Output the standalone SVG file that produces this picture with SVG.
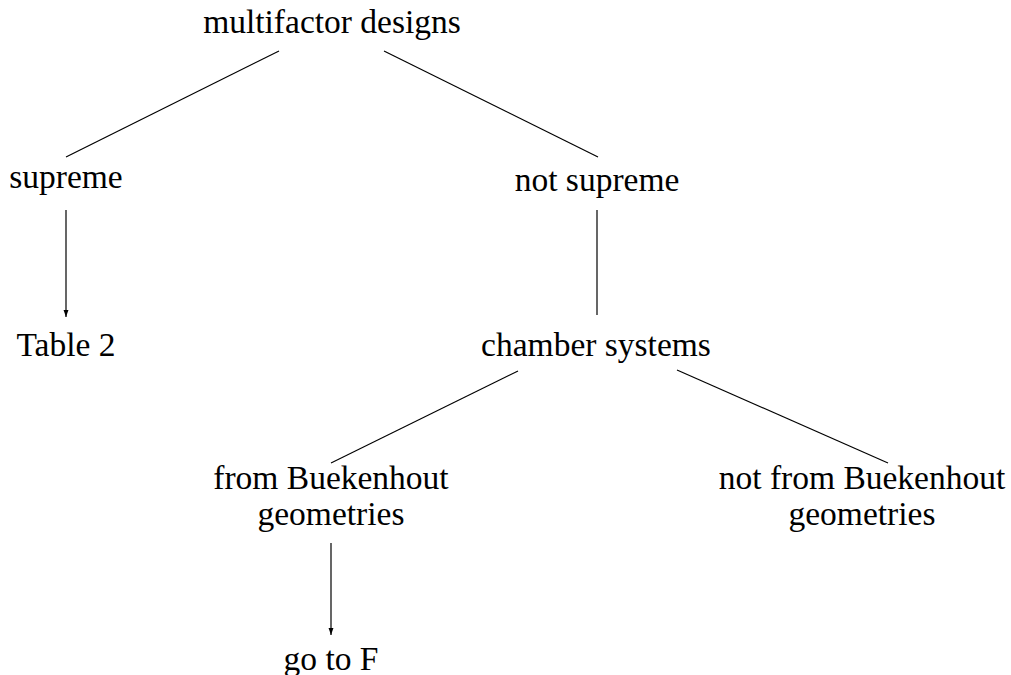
<svg xmlns="http://www.w3.org/2000/svg" width="1011" height="675" viewBox="0 0 1011 675">
<style>
text{font-family:"Liberation Serif","DejaVu Serif",serif;font-size:33.5px;fill:#000;text-anchor:middle}
.c line{stroke:#000;stroke-width:1.2;fill:none}
</style>
<defs>
<marker id="ah" markerWidth="7" markerHeight="10" refX="10" refY="3.5" orient="auto" markerUnits="userSpaceOnUse" viewBox="0 0 10 7">
<path d="M0,0 L10,3.5 L0,7 z" fill="#000"/>
</marker>
</defs>
<rect width="1011" height="675" fill="#fff"/>
<g class="c" id="connectors">
<line x1="279" y1="51" x2="66" y2="157"/>
<line x1="384" y1="51" x2="598" y2="157"/>
<line x1="66" y1="210" x2="66" y2="317" marker-end="url(#ah)"/>
<line x1="597" y1="210" x2="597" y2="315"/>
<line x1="518" y1="371" x2="331" y2="463"/>
<line x1="677" y1="370" x2="888" y2="463"/>
<line x1="331" y1="543" x2="331" y2="635" marker-end="url(#ah)"/>
</g>
<g id="n-multifactor"><text x="332" y="33">multifactor designs</text></g>
<g id="n-supreme"><text x="66" y="188">supreme</text></g>
<g id="n-notsupreme"><text x="597" y="191">not supreme</text></g>
<g id="n-table2"><text x="66" y="356">Table 2</text></g>
<g id="n-chamber"><text x="596" y="356">chamber systems</text></g>
<g id="n-fromB"><text x="331" y="489">from Buekenhout</text><text x="331" y="525">geometries</text></g>
<g id="n-notfromB"><text x="862" y="489">not from Buekenhout</text><text x="862" y="525">geometries</text></g>
<g id="n-gotoF"><text x="331" y="670">go to F</text></g>
</svg>
